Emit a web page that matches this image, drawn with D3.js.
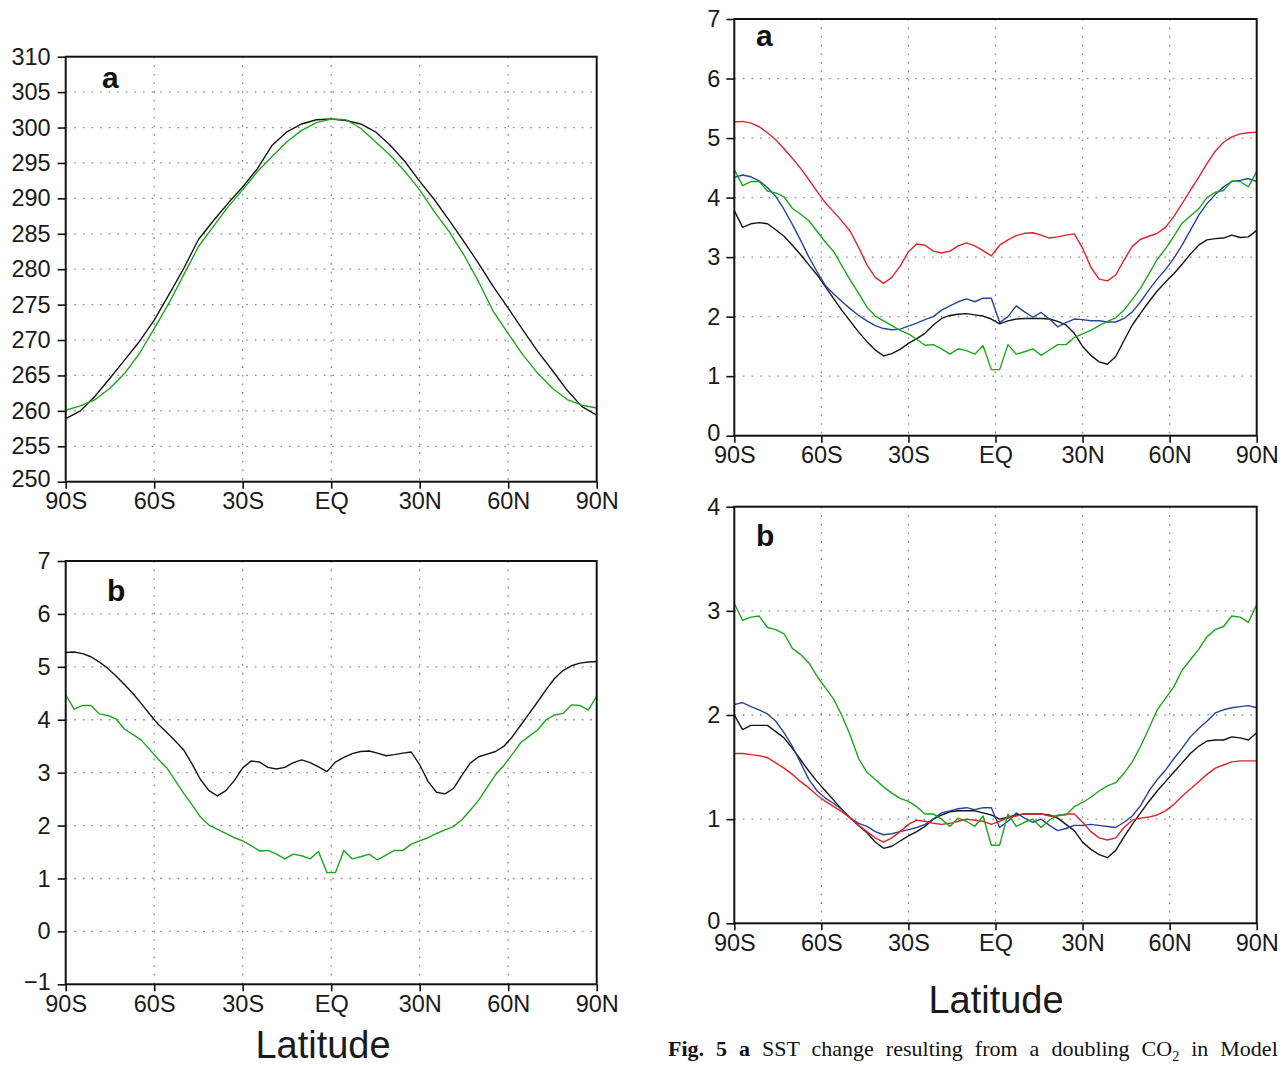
<!DOCTYPE html>
<html>
<head>
<meta charset="utf-8">
<script src="https://cdn.jsdelivr.net/npm/d3@7"></script>
<style>
	body { margin: 0; background: #fff; }
	svg { display: block; }
</style>
</head>
<body>
<svg id="fig" width="1285" height="1065"></svg>
<script>

// DATA

// zonal mean SST, 5 degree steps (left, panel a)
const lat5 = [-90, -85, -80, -75, -70, -65, -60, -55, -50, -45, -40, -35, -30, -25, -20, -15, -10, -5,
	0, 5, 10, 15, 20, 25, 30, 35, 40, 45, 50, 55, 60, 65, 70, 75, 80, 85, 90];

const sstBlack = [258.9, 260.0, 262.1, 264.6, 267.2, 269.8, 272.8, 276.4, 280.1, 284.2, 286.8, 289.3, 291.6, 294.2, 297.5, 299.4, 300.5, 301.1,
	301.2, 301.0, 300.5, 299.4, 297.5, 295.2, 292.4, 289.8, 286.9, 283.9, 280.8, 277.5, 274.5, 271.4, 268.4, 265.7, 262.9, 260.6, 259.4];

const sstGreen = [260.1, 260.7, 261.6, 263.2, 265.3, 268.1, 271.6, 275.2, 279.2, 283.2, 286.0, 288.8, 291.2, 293.8, 295.9, 298.0, 299.6, 300.7,
	301.2, 301.1, 299.9, 298.0, 296.1, 293.8, 291.2, 288.1, 285.3, 282.0, 278.2, 274.0, 270.9, 267.9, 265.3, 263.2, 261.6, 260.8, 260.4];

// model grid latitudes (64 rows)
const lat64 = [-90, -87.14, -84.29, -81.43, -78.57, -75.71, -72.86, -70, -67.14, -64.29, -61.43, -58.57, -55.71, -52.86, -50, -47.14,
	-44.29, -41.43, -38.57, -35.71, -32.86, -30, -27.14, -24.29, -21.43, -18.57, -15.71, -12.86, -10, -7.14, -4.29, -1.43,
	1.43, 4.29, 7.14, 10, 12.86, 15.71, 18.57, 21.43, 24.29, 27.14, 30, 32.86, 35.71, 38.57, 41.43, 44.29,
	47.14, 50, 52.86, 55.71, 58.57, 61.43, 64.29, 67.14, 70, 72.86, 75.71, 78.57, 81.43, 84.29, 87.14, 90];

// SST change, doubled CO2 (left b black = right a red, green shared)
const dsstRed = [5.27, 5.28, 5.25, 5.19, 5.09, 4.97, 4.82, 4.66, 4.49, 4.30, 4.10, 3.91, 3.76, 3.60, 3.43, 3.16,
	2.87, 2.66, 2.56, 2.66, 2.85, 3.09, 3.22, 3.20, 3.10, 3.07, 3.10, 3.19, 3.24, 3.19, 3.11, 3.02,
	3.20, 3.29, 3.36, 3.40, 3.41, 3.37, 3.32, 3.34, 3.37, 3.39, 3.15, 2.83, 2.63, 2.60, 2.70, 2.95,
	3.18, 3.30, 3.35, 3.40, 3.50, 3.68, 3.90, 4.12, 4.34, 4.57, 4.78, 4.93, 5.02, 5.07, 5.09, 5.10];

const dsstGreen = [4.47, 4.20, 4.27, 4.27, 4.11, 4.08, 4.01, 3.82, 3.72, 3.61, 3.43, 3.25, 3.09, 2.85, 2.61, 2.39,
	2.16, 2.01, 1.93, 1.85, 1.77, 1.71, 1.62, 1.52, 1.53, 1.46, 1.37, 1.46, 1.43, 1.37, 1.51, 1.11,
	1.11, 1.53, 1.37, 1.41, 1.46, 1.35, 1.44, 1.53, 1.53, 1.65, 1.71, 1.77, 1.85, 1.92, 1.98, 2.11,
	2.29, 2.48, 2.72, 2.96, 3.14, 3.35, 3.57, 3.69, 3.81, 4.00, 4.09, 4.12, 4.28, 4.27, 4.18, 4.44];

const dsstBlue = [4.34, 4.38, 4.35, 4.28, 4.17, 4.02, 3.80, 3.55, 3.28, 3.00, 2.75, 2.52, 2.38, 2.25, 2.13, 2.02,
	1.93, 1.85, 1.80, 1.78, 1.79, 1.84, 1.89, 1.95, 2.00, 2.11, 2.18, 2.25, 2.30, 2.25, 2.31, 2.31,
	1.90, 2.00, 2.18, 2.08, 1.99, 2.07, 1.96, 1.83, 1.90, 1.96, 1.95, 1.93, 1.93, 1.91, 1.91, 1.97,
	2.08, 2.25, 2.45, 2.63, 2.79, 2.98, 3.20, 3.45, 3.70, 3.90, 4.05, 4.18, 4.27, 4.29, 4.32, 4.27];

const dsstBlack = [3.78, 3.50, 3.56, 3.58, 3.56, 3.46, 3.35, 3.20, 3.04, 2.87, 2.70, 2.50, 2.30, 2.10, 1.92, 1.74,
	1.58, 1.44, 1.34, 1.38, 1.45, 1.55, 1.63, 1.72, 1.86, 1.97, 2.02, 2.04, 2.05, 2.03, 2.01, 1.96,
	1.88, 1.93, 1.96, 1.97, 1.97, 1.97, 1.96, 1.92, 1.86, 1.72, 1.50, 1.35, 1.24, 1.20, 1.33, 1.60,
	1.86, 2.06, 2.25, 2.43, 2.58, 2.72, 2.88, 3.05, 3.20, 3.29, 3.31, 3.32, 3.37, 3.33, 3.34, 3.45];

// normalised change (right b)
const normGreen = [3.07, 2.91, 2.94, 2.95, 2.84, 2.82, 2.78, 2.64, 2.58, 2.50, 2.37, 2.26, 2.15, 1.99, 1.80, 1.58,
	1.45, 1.38, 1.31, 1.25, 1.20, 1.17, 1.12, 1.05, 1.05, 1.00, 0.93, 1.01, 0.98, 0.93, 1.03, 0.75,
	0.75, 1.05, 0.93, 0.97, 1.00, 0.92, 0.99, 1.04, 1.04, 1.12, 1.16, 1.21, 1.27, 1.32, 1.35, 1.44,
	1.55, 1.70, 1.87, 2.05, 2.16, 2.27, 2.43, 2.53, 2.63, 2.75, 2.82, 2.85, 2.95, 2.94, 2.89, 3.06];

const normBlue = [2.10, 2.12, 2.08, 2.05, 2.01, 1.94, 1.83, 1.70, 1.54, 1.38, 1.27, 1.20, 1.15, 1.09, 1.01, 0.96,
	0.93, 0.88, 0.85, 0.86, 0.88, 0.90, 0.92, 0.95, 1.00, 1.06, 1.08, 1.10, 1.11, 1.09, 1.11, 1.11,
	0.92, 0.98, 1.06, 1.01, 0.97, 1.00, 0.94, 0.89, 0.91, 0.94, 0.94, 0.95, 0.94, 0.93, 0.92, 0.97,
	1.03, 1.13, 1.27, 1.38, 1.47, 1.58, 1.68, 1.79, 1.87, 1.94, 2.02, 2.05, 2.07, 2.08, 2.09, 2.07];

const normBlack = [2.00, 1.86, 1.90, 1.90, 1.90, 1.84, 1.78, 1.68, 1.57, 1.46, 1.36, 1.27, 1.18, 1.09, 1.01, 0.94,
	0.87, 0.78, 0.72, 0.74, 0.79, 0.84, 0.88, 0.93, 1.00, 1.04, 1.07, 1.08, 1.08, 1.08, 1.06, 1.04,
	1.00, 1.02, 1.04, 1.05, 1.05, 1.05, 1.04, 1.01, 0.95, 0.89, 0.78, 0.71, 0.66, 0.63, 0.70, 0.83,
	0.95, 1.06, 1.17, 1.27, 1.36, 1.45, 1.54, 1.63, 1.70, 1.75, 1.76, 1.76, 1.79, 1.78, 1.76, 1.83];

const normRed = [1.63, 1.63, 1.62, 1.61, 1.59, 1.54, 1.49, 1.43, 1.36, 1.30, 1.23, 1.17, 1.12, 1.07, 1.01, 0.94,
	0.88, 0.82, 0.78, 0.82, 0.88, 0.95, 0.99, 0.98, 0.96, 0.95, 0.96, 0.98, 1.00, 0.99, 0.98, 0.95,
	0.98, 1.01, 1.03, 1.05, 1.05, 1.05, 1.03, 1.03, 1.05, 1.05, 0.97, 0.88, 0.82, 0.80, 0.82, 0.92,
	0.99, 1.01, 1.02, 1.04, 1.08, 1.14, 1.22, 1.29, 1.36, 1.43, 1.49, 1.52, 1.55, 1.56, 1.56, 1.56];

const latTicks = [-90, -60, -30, 0, 30, 60, 90],
			latLabels = ['90S', '60S', '30S', 'EQ', '30N', '60N', '90N'];

const ticksSST = [250, 255, 260, 265, 270, 275, 280, 285, 290, 295, 300, 305, 310],
			ticksDiffL = [-1, 0, 1, 2, 3, 4, 5, 6, 7],
			ticksDiffR = [0, 1, 2, 3, 4, 5, 6, 7],
			ticksNorm = [0, 1, 2, 3, 4];

// STYLE

const C = { black: '#151515', green: '#1ea51e', red: '#e3232b', blue: '#27449c' },
			tickFont = '"Liberation Sans", Arial, sans-serif';

const svg = d3.select('#fig');

const fmtY = d => d < 0 ? '\u2212' + Math.abs(d) : String(d);

const drawPanel = p => {

	const x = d3.scaleLinear().domain([-90, 90]).range([p.left, p.right]),
				y = d3.scaleLinear().domain([p.yTicks[0], p.yTicks[p.yTicks.length - 1]]).range([p.bottom, p.top]);

	const g = svg.append('g');

	// dotted grid
	const grid = g.append('g')
		.attr('stroke', '#8a8a8a')
		.attr('stroke-width', 1.3)
		.attr('stroke-dasharray', '1.6 7');

	grid.selectAll('.gy')
		.data(p.yTicks.slice(1, -1))
		.join('line')
		.attr('x1', p.left).attr('x2', p.right)
		.attr('y1', d => y(d)).attr('y2', d => y(d));

	grid.selectAll('.gx')
		.data(latTicks.slice(1, -1))
		.join('line')
		.attr('y1', p.top).attr('y2', p.bottom)
		.attr('x1', d => x(d)).attr('x2', d => x(d));

	// curves
	for (const s of p.series) {
		g.append('path')
			.datum(s.values)
			.attr('fill', 'none')
			.attr('stroke', s.color)
			.attr('stroke-width', 1.4)
			.attr('stroke-linejoin', 'round')
			.attr('d', d3.line().x((d, i) => x(s.lat[i])).y(d => y(d)));
	}

	// frame
	g.append('rect')
		.attr('x', p.left).attr('y', p.top)
		.attr('width', p.right - p.left).attr('height', p.bottom - p.top)
		.attr('fill', 'none')
		.attr('stroke', '#111')
		.attr('stroke-width', 2);

	const yAxis = g.append('g')
		.attr('transform', `translate(${p.left},0)`)
		.call(d3.axisLeft(y).tickValues(p.yTicks).tickFormat(fmtY).tickSize(8).tickPadding(p.pad).tickSizeOuter(0));

	const xAxis = g.append('g')
		.attr('transform', `translate(0,${p.bottom})`)
		.call(d3.axisBottom(x).tickValues(latTicks).tickFormat((d, i) => latLabels[i]).tickSize(7).tickPadding(4).tickSizeOuter(0));

	for (const a of [yAxis, xAxis]) {
		a.select('.domain').remove();
		a.selectAll('line').attr('stroke', '#111').attr('stroke-width', 1.6);
		a.selectAll('text')
			.attr('fill', '#1a1a1a')
			.style('font-family', tickFont)
			.style('font-size', '23.5px');
	}

	// lift the lowest y label a touch so it clears the first x label
	yAxis.selectAll('.tick').filter(d => d === p.yTicks[0]).select('text').attr('dy', '0.2em');

	// panel letter
	g.append('text')
		.attr('x', p.lx).attr('y', p.ly)
		.style('font-family', 'Arial, "Liberation Sans", sans-serif')
		.style('font-weight', 'bold')
		.style('font-size', '30px')
		.attr('fill', '#111')
		.text(p.letter);

};

drawPanel({
	left: 65.7, right: 596.7, top: 56.7, bottom: 481.7, pad: 7,
	yTicks: ticksSST, letter: 'a', lx: 102, ly: 88,
	series: [
		{ lat: lat5, values: sstBlack, color: C.black },
		{ lat: lat5, values: sstGreen, color: C.green }
	]
});

drawPanel({
	left: 65.7, right: 596.7, top: 561, bottom: 984.3, pad: 7,
	yTicks: ticksDiffL, letter: 'b', lx: 107, ly: 601,
	series: [
		{ lat: lat64, values: dsstRed, color: C.black },
		{ lat: lat64, values: dsstGreen, color: C.green }
	]
});

drawPanel({
	left: 734.3, right: 1256.7, top: 19, bottom: 435.7, pad: 6,
	yTicks: ticksDiffR, letter: 'a', lx: 756, ly: 46,
	series: [
		{ lat: lat64, values: dsstBlack, color: C.black },
		{ lat: lat64, values: dsstBlue, color: C.blue },
		{ lat: lat64, values: dsstGreen, color: C.green },
		{ lat: lat64, values: dsstRed, color: C.red }
	]
});

drawPanel({
	left: 734.3, right: 1256.7, top: 506.7, bottom: 923.3, pad: 6,
	yTicks: ticksNorm, letter: 'b', lx: 756, ly: 546,
	series: [
		{ lat: lat64, values: normBlack, color: C.black },
		{ lat: lat64, values: normBlue, color: C.blue },
		{ lat: lat64, values: normRed, color: C.red },
		{ lat: lat64, values: normGreen, color: C.green }
	]
});

// axis titles
const title = (x, y) => svg.append('text')
	.attr('x', x).attr('y', y)
	.attr('text-anchor', 'middle')
	.style('font-family', tickFont)
	.style('font-size', '38px')
	.attr('fill', '#1a1a1a')
	.text('Latitude');

title(323, 1058);
title(996, 1013);

// caption
const cap = svg.append('text')
	.attr('x', 668).attr('y', 1056)
	.style('font-family', '"Liberation Serif", "Times New Roman", serif')
	.style('font-size', '22px')
	.style('word-spacing', '6.5px')
	.attr('fill', '#111');

cap.append('tspan').style('font-weight', 'bold').text('Fig. 5 a');
cap.append('tspan').text(' SST change resulting from a doubling CO');
cap.append('tspan').attr('dy', 5).style('font-size', '14px').text('2');
cap.append('tspan').attr('dy', -5).text(' in Model');

</script>
</body>
</html>
